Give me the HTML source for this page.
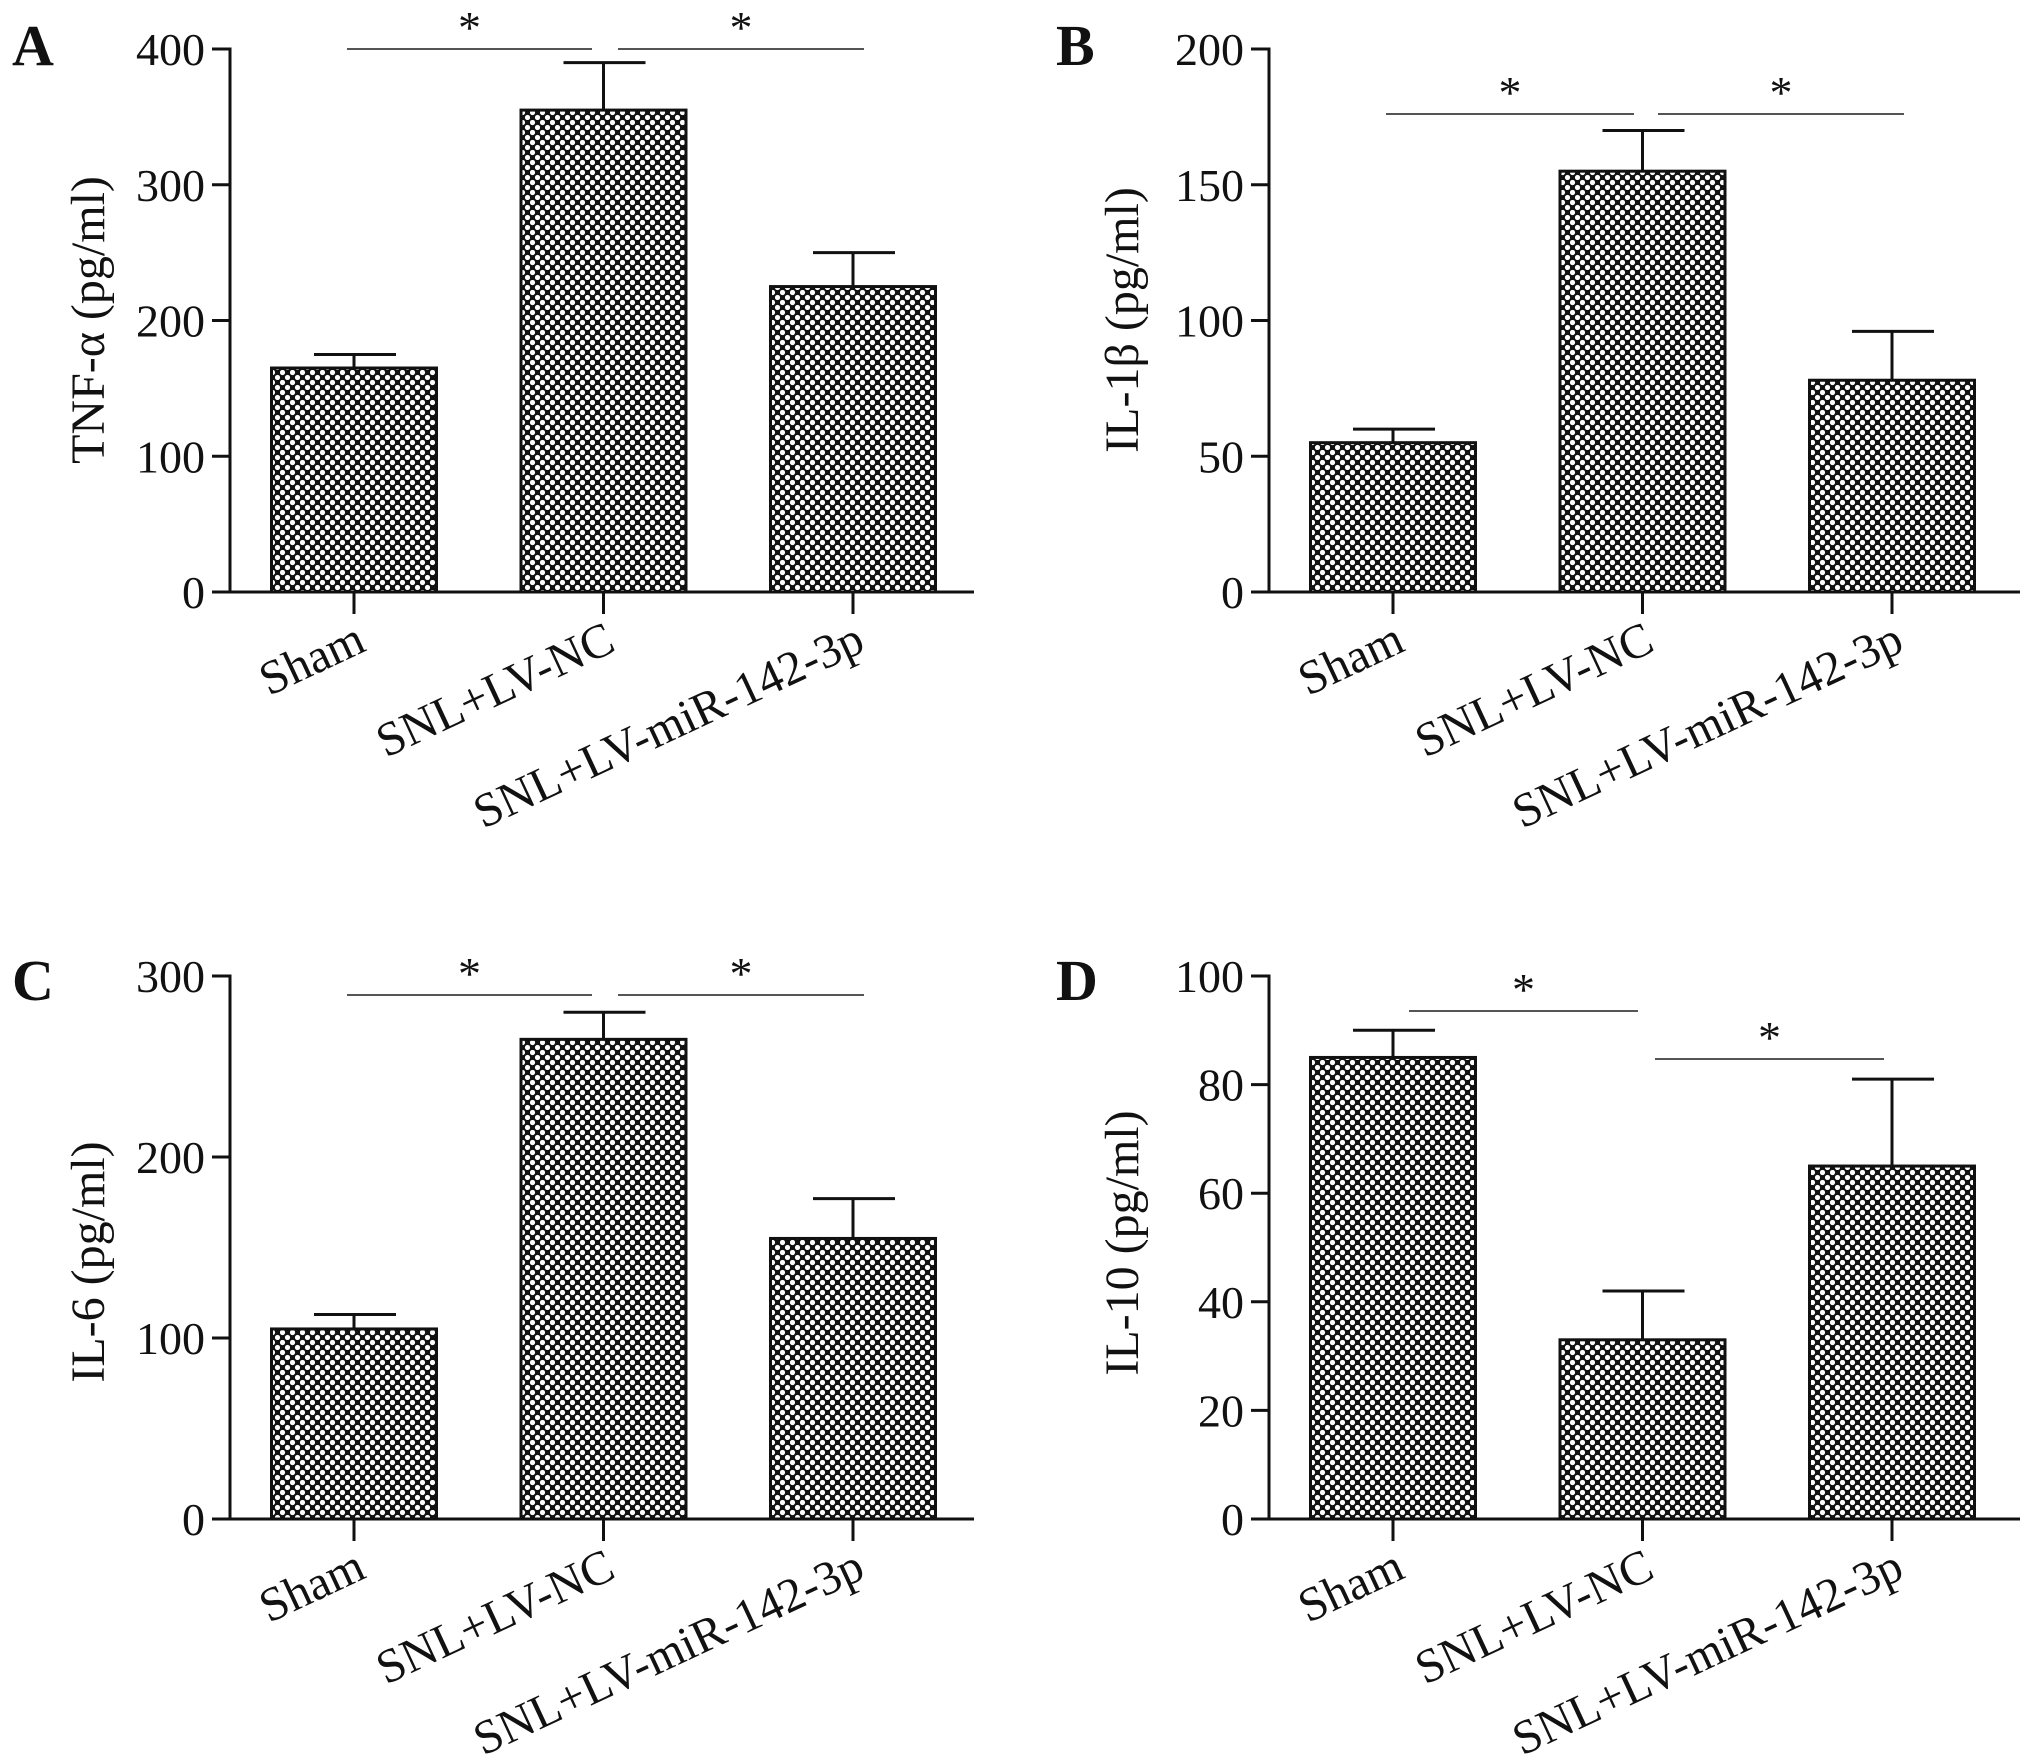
<!DOCTYPE html>
<html><head><meta charset="utf-8"><style>
html,body{margin:0;padding:0;background:#fff}
svg{display:block}
text{font-family:"Liberation Serif",serif;fill:#111}
</style></head><body>
<svg id="fig" width="2031" height="1759" viewBox="0 0 2031 1759" xmlns="http://www.w3.org/2000/svg">
<defs>
<pattern id="chk" width="10" height="10" patternUnits="userSpaceOnUse">
<rect width="10" height="10" fill="#111"/>
<circle cx="2.5" cy="2.5" r="2.6" fill="#fff"/>
<circle cx="7.5" cy="7.5" r="2.6" fill="#fff"/>
</pattern>
</defs>
</svg>
<script>
const categories = ["Sham","SNL+LV-NC","SNL+LV-miR-142-3p"];
const tnfValues = [165, 355, 225];
const tnfErrors = [10, 35, 25];
const il1bValues = [55, 155, 78];
const il1bErrors = [5, 15, 18];
const il6Values = [105, 265, 155];
const il6Errors = [8, 15, 22];
const il10Values = [85, 33, 65];
const il10Errors = [5, 9, 16];
const tnfTicks = [0,100,200,300,400];
const il1bTicks = [0,50,100,150,200];
const il6Ticks = [0,100,200,300];
const il10Ticks = [0,20,40,60,80,100];

const NS = "http://www.w3.org/2000/svg";
const svg = document.getElementById('fig');
function mk(tag, attrs, parent, txt){
  const e = document.createElementNS(NS, tag);
  for (const k in attrs) e.setAttribute(k, attrs[k]);
  if (txt !== undefined) e.textContent = txt;
  (parent||svg).appendChild(e);
  return e;
}

function panel(cfg){
  const g = mk('g', {});
  
  
  const ax = cfg.ax, y0 = cfg.y0, yTop = cfg.yTop, xEnd = cfg.xEnd;
  const maxV = cfg.ticks[cfg.ticks.length-1];
  const yS = v => y0 - (v / maxV) * (y0 - yTop);
  const xC = i => ax + 124 + 249.5 * i;
  const bw = 165;

  const lbl = mk('text', {x: cfg.lx, y: cfg.ly, 'font-size': 58, 'font-weight': 'bold'}, g, cfg.letter);
  
  

  cfg.values.forEach((v, i) => {
    const cx = xC(i);
    const top = yS(v), capY = yS(v + cfg.errors[i]);
    const eb = mk('line', {x1: cx, y1: top, x2: cx, y2: capY, stroke: '#111', 'stroke-width': 3}, g);
    
    
    const cap = mk('line', {x1: cx - 40, y1: capY, x2: cx + 42, y2: capY, stroke: '#111', 'stroke-width': 3}, g);
    
    
    const r = mk('rect', {x: cx - bw/2, y: top, width: bw, height: y0 - top, fill: 'url(#chk)', stroke: '#111', 'stroke-width': 3}, g);
    
    
    const tk = mk('line', {x1: cx, y1: y0, x2: cx, y2: y0 + 22, stroke: '#111', 'stroke-width': 3}, g);
    
    
    const xl = mk('text', {x: cx + 14, y: y0 + 58, 'font-size': 48, 'text-anchor': 'end', transform: `rotate(-25 ${cx+14} ${y0+58})`}, g, categories[i]);
    
    
  });

  const ya = mk('line', {x1: ax, y1: yTop - 1.5, x2: ax, y2: y0, stroke: '#111', 'stroke-width': 3}, g);
  
  
  const xa = mk('line', {x1: ax - 18, y1: y0, x2: xEnd, y2: y0, stroke: '#111', 'stroke-width': 3}, g);
  
  
  cfg.ticks.forEach(t => {
    const y = yS(t);
    const tl = mk('line', {x1: ax - 18, y1: y, x2: ax, y2: y, stroke: '#111', 'stroke-width': 3}, g);
    
    
    const tt = mk('text', {x: ax - 25, y: y + 16, 'font-size': 46, 'text-anchor': 'end'}, g, String(t));
    
    
  });
  const yt = mk('text', {x: cfg.tx, y: cfg.ty, 'font-size': 48, 'text-anchor': 'middle', transform: `rotate(-90 ${cfg.tx} ${cfg.ty})`}, g, cfg.title);
  
  

  cfg.sig.forEach(s => {
    const l = mk('line', {x1: s[0], y1: s[2], x2: s[1], y2: s[2], stroke: '#555', 'stroke-width': 2}, g);
    
    
    const st = mk('text', {x: (s[0]+s[1])/2, y: s[2] - 6, 'font-size': 46, 'text-anchor': 'middle'}, g, '*');
    
    
  });
}

panel({letter:'A', lx:12, ly:65, ax:230, y0:592, yTop:49, xEnd:974, ticks:tnfTicks, values:tnfValues, errors:tnfErrors,
  title:'TNF-α (pg/ml)', tx:104, ty:320, sig:[[347,592,49],[618,864,49]]});
panel({letter:'B', lx:1056, ly:65, ax:1269, y0:592, yTop:49, xEnd:2020, ticks:il1bTicks, values:il1bValues, errors:il1bErrors,
  title:'IL-1β (pg/ml)', tx:1138, ty:320, sig:[[1386,1634,114],[1658,1904,114]]});
panel({letter:'C', lx:12, ly:1000, ax:230, y0:1519, yTop:976, xEnd:974, ticks:il6Ticks, values:il6Values, errors:il6Errors,
  title:'IL-6 (pg/ml)', tx:104, ty:1262, sig:[[347,592,995],[618,864,995]]});
panel({letter:'D', lx:1056, ly:1000, ax:1269, y0:1519, yTop:976, xEnd:2020, ticks:il10Ticks, values:il10Values, errors:il10Errors,
  title:'IL-10 (pg/ml)', tx:1138, ty:1243, sig:[[1409,1638,1011],[1655,1884,1059]]});
</script>
</body></html>
